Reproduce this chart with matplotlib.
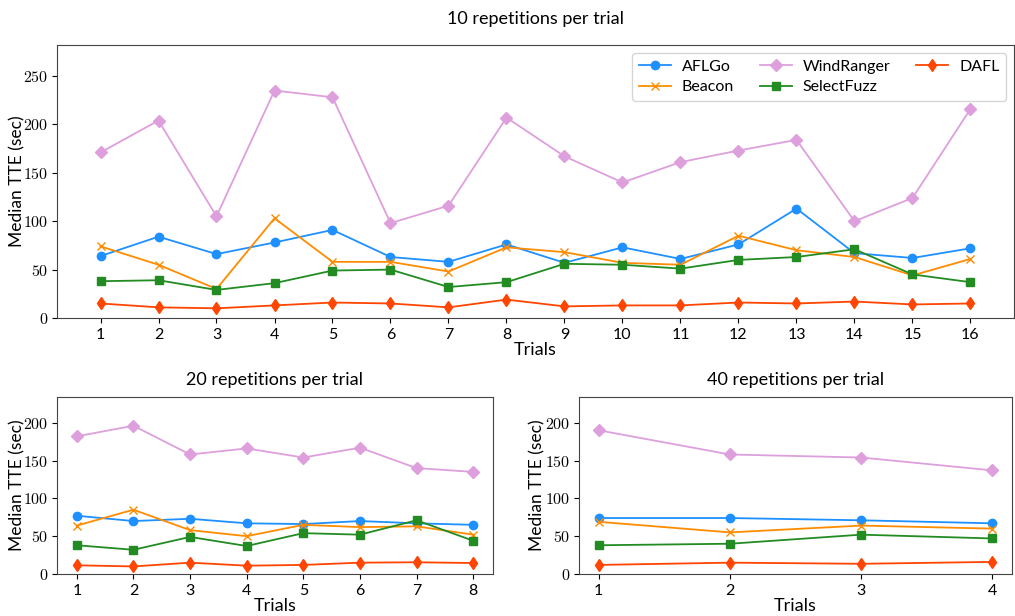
import matplotlib
matplotlib.use("Agg")
import matplotlib.pyplot as plt
from matplotlib.ticker import FuncFormatter, MultipleLocator

plt.rcParams['font.family'] = ['Lato', 'DejaVu Sans']
plt.rcParams['mathtext.fontset'] = 'cm'

tools = ["AFLGo", "Beacon", "WindRanger", "SelectFuzz", "DAFL"]
colors = ["#1E90FF", "#FF8C00", "#DDA0DD", "#228B22", "#FF4500"]
markers = ["o", "x", "D", "s", "d"]

# 10 repetitions per trial (16 trials)
trials10 = list(range(1, 17))
aflgo10 = [64, 84, 66, 78, 91, 63, 58, 76, 57, 73, 61, 76, 113, 67, 62, 72]
beacon10 = [74, 55, 30, 103, 58, 58, 48, 73, 68, 57, 55, 85, 70, 63, 44, 61]
windranger10 = [171, 204, 105, 235, 228, 98, 116, 207, 167, 140, 161, 173, 184, 100, 124, 216]
selectfuzz10 = [38, 39, 29, 36, 49, 50, 32, 37, 56, 55, 51, 60, 63, 71, 45, 37]
dafl10 = [15, 11, 10, 13, 16, 15, 11, 19, 12, 13, 13, 16, 15, 17, 14, 15]

# 20 repetitions per trial (8 trials)
trials20 = list(range(1, 9))
aflgo20 = [77, 70, 73, 67, 66, 70, 67, 65]
beacon20 = [64, 85, 58, 50, 65, 62, 63, 52]
windranger20 = [182, 196, 158, 166, 154, 167, 140, 135]
selectfuzz20 = [38, 32, 49, 37, 54, 52, 71, 44]
dafl20 = [11.5, 10, 15, 11, 12, 15, 15.5, 14.5]

# 40 repetitions per trial (4 trials)
trials40 = list(range(1, 5))
aflgo40 = [74, 74, 71, 67]
beacon40 = [69, 55, 64, 60]
windranger40 = [190, 158, 154, 137]
selectfuzz40 = [38, 40, 52, 47]
dafl40 = [12, 15, 13.5, 16]

data10 = [aflgo10, beacon10, windranger10, selectfuzz10, dafl10]
data20 = [aflgo20, beacon20, windranger20, selectfuzz20, dafl20]
data40 = [aflgo40, beacon40, windranger40, selectfuzz40, dafl40]

fig = plt.figure(figsize=(10.15, 6.16), dpi=100)
W, H = 1015, 616
def ax_at(x0, y0, x1, y1):
    return fig.add_axes([x0 / W, 1 - y1 / H, (x1 - x0) / W, (y1 - y0) / H])

ax_top = ax_at(57, 45, 1014, 318)
ax_bl = ax_at(57, 397, 493, 574)
ax_br = ax_at(579, 397, 1012, 574)

ytick_fmt = FuncFormatter(lambda v, p: r'$%d$' % v)

def draw(ax, x, data, title, ymax, step, pad, ylab_x):
    for name, vals, c, m in zip(tools, data, colors, markers):
        ax.plot(x, vals, color=c, marker=m, markersize=6, linewidth=1.3, label=name)
    ax.set_xticks(x)
    ax.set_ylim(0, ymax)
    ax.yaxis.set_major_locator(MultipleLocator(step))
    ax.yaxis.set_major_formatter(ytick_fmt)
    ax.tick_params(axis='y', labelsize=11.5, pad=3)
    ax.tick_params(axis='x', labelsize=11.5, pad=4)
    ax.set_xlabel("Trials", fontsize=13, labelpad=0)
    ax.set_ylabel("Median TTE (sec)", fontsize=12.5)
    ax.yaxis.set_label_coords(ylab_x, 0.5)
    ax.set_title(title, fontsize=13, pad=pad)
    for s in ax.spines.values():
        s.set_color('#444444')

draw(ax_top, trials10, data10, "10 repetitions per trial", 282, 50, 15, (25 - 57) / 957)
draw(ax_bl, trials20, data20, "20 repetitions per trial", 234, 50, 9, (25 - 57) / 436)
draw(ax_br, trials40, data40, "40 repetitions per trial", 234, 50, 9, (545 - 579) / 433)

ax_top.legend(loc='upper right', ncol=3, fontsize=11.5, handlelength=2.0,
              handletextpad=0.7, columnspacing=1.6, borderaxespad=0.5,
              labelspacing=0.4)

fig.savefig("out.png", dpi=100)
